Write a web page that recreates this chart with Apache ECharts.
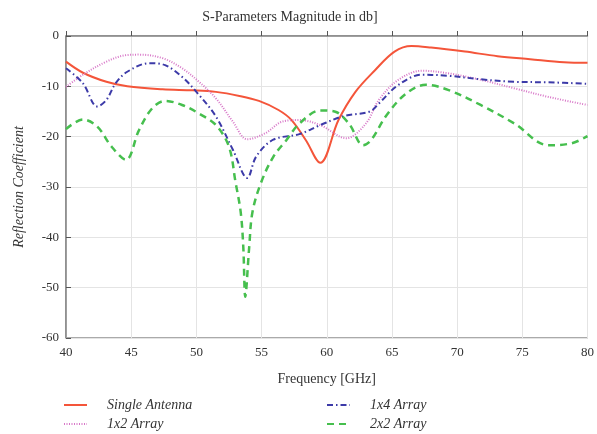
<!DOCTYPE html>
<html>
<head>
<meta charset="utf-8">
<script src="https://cdn.jsdelivr.net/npm/echarts@6/dist/echarts.min.js"></script>
<style>
html,body{margin:0;padding:0;background:#fff}
#main{width:597px;height:434px}
</style>
</head>
<body>
<div id="main"></div>
<script>
// 数据
var freqSingle = [40, 41.3, 43.1, 44.7, 47.4, 49.7, 51.5, 53.3, 54.8, 56.3, 57.3, 58.4, 59.5, 60.9, 62.2, 63.7, 65.2, 66.5, 68, 70.6, 73.1, 75.6, 78.2, 80];
var valSingle = [-5.1, -7.3, -9.1, -10, -10.6, -10.8, -11.1, -11.9, -12.9, -14.7, -16.7, -20.7, -25.2, -16.7, -11.1, -6.8, -3.1, -2.0, -2.3, -3.1, -4.0, -4.6, -5.2, -5.3];

var freq1x2 = [40, 41.3, 43.1, 44.6, 45.6, 47.4, 48.9, 50.2, 51.5, 52.8, 53.9, 55.3, 56.6, 57.9, 59.5, 61.5, 63, 64, 65.5, 67.3, 69.3, 71.8, 74.4, 77, 80];
var val1x2 = [-10.1, -7.7, -5.1, -3.8, -3.7, -4.4, -6.4, -9.1, -12.4, -17.0, -20.5, -19.3, -17.0, -16.7, -17.7, -20.3, -17.4, -12.7, -8.7, -6.9, -7.4, -8.7, -10.4, -12.1, -13.7];

var freq1x4 = [40, 41.3, 42.4, 43.1, 43.8, 44.7, 46.4, 47.6, 48.9, 50.2, 51.5, 52.8, 53.9, 54.6, 55.9, 57.9, 59.5, 61.3, 63.3, 64, 65.5, 67.3, 69.3, 71.8, 74.4, 77, 80];
var val1x4 = [-6.4, -9.4, -14.0, -12.7, -9.4, -7.1, -5.4, -5.8, -8.1, -11.7, -16.0, -22.6, -28.2, -23.9, -20.6, -19.5, -17.7, -15.9, -15.0, -13.4, -9.7, -7.7, -7.9, -8.6, -9.1, -9.2, -9.5];

var freq2x2 = [40, 41.3, 42.4, 43.5, 44.6, 45.6, 46.6, 47.6, 48.9, 50.2, 51.5, 52.5, 53.0, 53.4, 53.6, 53.75, 54.05, 54.3, 54.95, 55.9, 56.9, 57.9, 59.5, 60.6, 61.7, 62.8, 63.4, 64.6, 66.1, 67.6, 69.3, 71.8, 74.4, 77, 78.8, 80];
var val2x2 = [-18.5, -16.6, -18.0, -22, -24.6, -18.7, -14.4, -12.9, -13.7, -15.4, -17.7, -22, -29, -35, -42, -51.8, -42, -35, -29.2, -24, -20.7, -17.4, -14.8, -15.0, -17.4, -21.7, -20.7, -15.7, -11.4, -9.7, -10.7, -13.7, -17.4, -21.7, -21.3, -19.9];

var serif = '"Liberation Serif", "DejaVu Serif", serif';

function pairs(xs, ys){
    var out=[];
    for(var i=0;i<xs.length;i++){
        out.push([xs[i], ys[i]]);
    }
    return out;
}

// 每个图例单独一个
function legendItem(name, left, top){
    return {
        left: left,
        top: top,
        padding: 0,
        itemWidth: 23,
        itemHeight: 10,
        itemStyle: {opacity: 0},
        data: [name],
        textStyle: {fontFamily: serif, fontSize: 14, fontStyle: 'italic', color: '#333', lineHeight: 16, padding: [0, 0, 0, 15]}
    };
}

var chart = echarts.init(document.getElementById('main'));
var option = {
    animation: false,
    title: {
        text: 'S-Parameters Magnitude in db]',
        left: 285,
        textAlign: 'center',
        top: 5,
        textStyle: {fontFamily: serif, fontSize: 14, fontWeight: 'normal', color: '#333'}
    },
    legend: [
        legendItem('Single Antenna', 63, 397),
        legendItem('1x2 Array', 63, 416),
        legendItem('1x4 Array', 326, 397),
        legendItem('2x2 Array', 326, 416)
    ],
    grid: {
        left: 66,
        right: 7,
        top: 36,
        bottom: 96,
        show: true,
        borderColor: '#555',
        borderWidth: 1
    },
    xAxis: {
        type: 'value',
        min: 40,
        max: 80,
        interval: 5,
        name: 'Frequency [GHz]',
        nameLocation: 'middle',
        nameGap: 34,
        nameTextStyle: {fontFamily: serif, fontSize: 14, color: '#333'},
        axisLine: {lineStyle: {color: '#888', width: 1.5}},
        axisTick: {inside: true, length: 5, lineStyle: {color: '#555'}},
        axisLabel: {fontFamily: serif, fontSize: 13, color: '#333', margin: 8},
        splitLine: {lineStyle: {color: '#e4e4e4'}}
    },
    yAxis: {
        type: 'value',
        min: -60,
        max: 0,
        interval: 10,
        name: 'Reflection Coefficient',
        nameLocation: 'middle',
        nameGap: 40,
        nameTextStyle: {fontFamily: serif, fontSize: 14, fontStyle: 'italic', color: '#333'},
        axisLine: {show: true, lineStyle: {color: '#888', width: 1.5}},
        axisTick: {show: true, inside: true, length: 5, lineStyle: {color: '#555'}},
        axisLabel: {fontFamily: serif, fontSize: 13, color: '#333', margin: 7},
        splitLine: {lineStyle: {color: '#e4e4e4'}}
    },
    series: [{
        name: 'Single Antenna',
        type: 'line',
        data: pairs(freqSingle, valSingle),
        smooth: 0.35,
        symbol: 'none',
        itemStyle: {color: '#f4553a'},
        lineStyle: {color: '#f4553a', width: 2}
    }, {
        name: '1x2 Array',
        type: 'line',
        data: pairs(freq1x2, val1x2),
        smooth: 0.35,
        symbol: 'none',
        itemStyle: {color: '#d877c8'},
        lineStyle: {color: '#d877c8', width: 2, type: [1, 1.5]}
    }, {
        name: '1x4 Array',
        type: 'line',
        data: pairs(freq1x4, val1x4),
        smooth: 0.35,
        symbol: 'none',
        itemStyle: {color: '#3c3aa8'},
        lineStyle: {color: '#3c3aa8', width: 2, type: [6, 3, 1.5, 3]}
    }, {
        name: '2x2 Array',
        type: 'line',
        data: pairs(freq2x2, val2x2),
        smooth: 0.35,
        symbol: 'none',
        itemStyle: {color: '#46bf4e'},
        lineStyle: {color: '#46bf4e', width: 2.5, type: [7, 5]}
    }]
};
chart.setOption(option);
</script>
</body>
</html>
